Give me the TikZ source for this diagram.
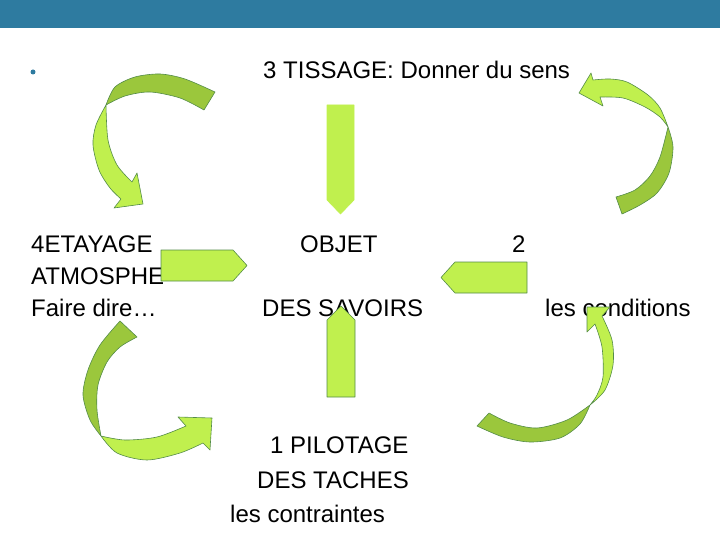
\documentclass[tikz,border=0pt]{standalone}
\usepackage{fontspec}
\setmainfont{Liberation Sans}
\usepackage{tikz}

\definecolor{topbar}{RGB}{46,123,160}
\definecolor{limefill}{RGB}{192,240,78}
\definecolor{leaf}{RGB}{155,199,60}
\definecolor{rim}{RGB}{84,140,72}

\begin{document}
\begin{tikzpicture}[
    x=1pt, y=-1pt,
    every node/.style={font=\fontsize{24}{28}\selectfont, inner sep=0pt},
    blockarrow/.style={
        fill=limefill,
        draw=rim,
        line width=0.6pt,
        line join=round
    },
    lightpart/.style={
        fill=limefill,
        draw=rim,
        line width=0.6pt,
        line join=round
    },
    darkpart/.style={
        fill=leaf,
        draw=rim,
        line width=0.6pt,
        line join=round
    }
]
\useasboundingbox (0,0) rectangle (720,540);

% Slide header
\fill[topbar] (0,0) rectangle (720,28);
\node[circle, fill=topbar, minimum size=5pt] (bullet) at (33,72) {};

% Texts with fixed coordinates
\node[anchor=base west] (title)       at (263,79)  {3 TISSAGE: Donner du sens};
\node[anchor=base west] (etayage)     at (31,252)  {4ETAYAGE};
\node[anchor=base west] (atmo)        at (31,284)  {ATMOSPHE};
\node[anchor=base west] (fairedire)   at (31,316)  {Faire dire…};
\node[anchor=base west] (objet)       at (300,252) {OBJET};
\node[anchor=base west] (deux)        at (512,252) {2};
\node[anchor=base west] (savoirs)     at (262,316) {DES SAVOIRS};
\node[anchor=base west] (conditions)  at (545,316) {les conditions};
\node[anchor=base west] (pilotage)    at (270,453) {1 PILOTAGE};
\node[anchor=base west] (taches)      at (257,488) {DES TACHES};
\node[anchor=base west] (contraintes) at (230,522) {les contraintes};

% Straight block arrows
\draw[blockarrow, draw=limefill] (327,105) -- (354,105) -- (354,200) -- (340.5,214) -- (327,200) -- cycle;
\draw[blockarrow] (161,250) -- (233,250) -- (247,265.5) -- (233,281) -- (161,281) -- cycle;
\draw[blockarrow] (527,262) -- (527,293) -- (455,293) -- (441,277.5) -- (455,262) -- cycle;
\draw[blockarrow] (327,397) -- (327,320) -- (341,306) -- (355,320) -- (355,397) -- cycle;

% Curved arrow, top left
\draw[darkpart] plot[smooth] coordinates {(106,105) (115,87) (135,77) (160,74) (185,79) (215,92)}
    -- plot[smooth] coordinates {(204,110) (180,98) (150,92) (125,96) (106,105)} -- cycle;
\draw[lightpart] plot[smooth] coordinates {(106,105) (96,125) (93,145) (99,170) (110,188) (121,199)}
    -- (114,208) -- (143,204) -- (137,173)
    -- plot[smooth] coordinates {(132,182) (117,165) (108,140) (106,105)} -- cycle;

% Curved arrow, top right
\draw[darkpart] plot[smooth] coordinates {(668,127) (673,147) (669,173) (657,193) (640,205) (622,214)}
    -- plot[smooth] coordinates {(616,197) (635,190) (650,176) (660,157) (668,127)} -- cycle;
\draw[lightpart] plot[smooth] coordinates {(668,127) (660,108) (648,95) (627,82) (610,79) (593,80)}
    -- (591,73) -- (579,93) -- (603,106)
    -- plot[smooth] coordinates {(600,97) (623,98) (645,107) (660,117) (668,127)} -- cycle;

% Curved arrow, bottom left
\draw[darkpart] plot[smooth] coordinates {(120,321) (100,345) (88,370) (83,395) (90,420) (101,436)}
    -- plot[smooth] coordinates {(101,436) (97,410) (98,385) (107,362) (120,347) (137,337)} -- cycle;
\draw[lightpart] plot[smooth] coordinates {(101,436) (117,453) (147,460) (180,453) (203,443)}
    -- (210,450) -- (212,418) -- (178,417)
    -- plot[smooth] coordinates {(186,426) (157,437) (125,440) (101,436)} -- cycle;

% Curved arrow, bottom right
\draw[darkpart] plot[smooth] coordinates {(590,405) (580,424) (560,438) (530,442) (503,437) (477,426)}
    -- plot[smooth] coordinates {(489,413) (510,423) (537,428) (567,420) (590,405)} -- cycle;
\draw[lightpart] plot[smooth] coordinates {(590,405) (605,390) (613,365) (612,340) (602,316)}
    -- (610,307) -- (587,307) -- (587,332)
    -- plot[smooth] coordinates {(595,324) (602,347) (603,377) (597,395) (590,405)} -- cycle;

\end{tikzpicture}
\end{document}
